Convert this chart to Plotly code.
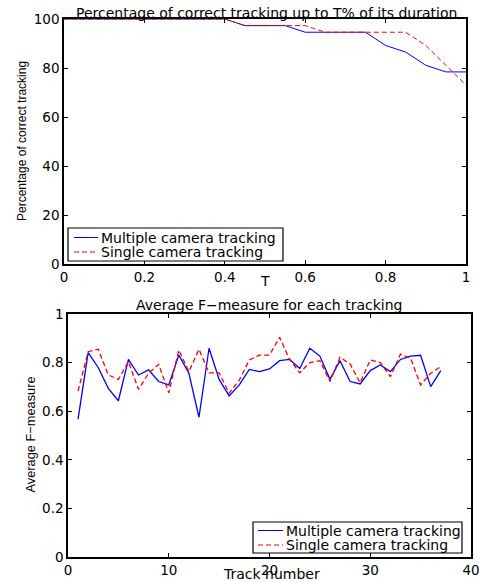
import plotly.graph_objects as go

# ---- data ----
T_values = [0, 0.05, 0.1, 0.15, 0.2, 0.25, 0.3, 0.35, 0.4, 0.45, 0.5,
            0.55, 0.6, 0.65, 0.7, 0.75, 0.8, 0.85, 0.9, 0.95, 1.0]
multi_pct = [100, 100, 100, 100, 100, 100, 100, 100, 100, 97.3, 97.3,
             97.3, 94.6, 94.6, 94.6, 94.6, 89.2, 86.5, 81.1, 78.4, 78.4]
single_pct = [100, 100, 100, 100, 100, 100, 100, 100, 100, 97.3, 97.3,
              97.3, 97.3, 94.6, 94.6, 94.6, 94.6, 94.6, 89.2, 81.1, 73.0]

track_ids = list(range(1, 38))
multi_f = [0.567, 0.841, 0.780, 0.694, 0.643, 0.813, 0.749, 0.770, 0.722, 0.708,
           0.831, 0.756, 0.575, 0.859, 0.731, 0.663, 0.708, 0.772, 0.763, 0.774,
           0.808, 0.813, 0.776, 0.859, 0.827, 0.731, 0.808, 0.722, 0.712, 0.767,
           0.790, 0.763, 0.813, 0.827, 0.830, 0.701, 0.767]
single_f = [0.683, 0.845, 0.855, 0.749, 0.731, 0.804, 0.690, 0.756, 0.793, 0.676,
            0.852, 0.763, 0.855, 0.758, 0.758, 0.674, 0.728, 0.811, 0.831, 0.831,
            0.904, 0.813, 0.758, 0.800, 0.808, 0.722, 0.822, 0.794, 0.717, 0.811,
            0.800, 0.742, 0.835, 0.818, 0.708, 0.756, 0.783]

top_title = "Percentage of correct tracking up to T% of its duration"
bot_title = "Average F\u2212measure for each tracking"
series_names = ["Multiple camera tracking", "Single camera tracking"]
series_colors = ["#0000ff", "#ff0000"]
series_dash = ["solid", "5px,3px"]

W, H = 479, 582
FONT = "DejaVu Sans, Verdana, sans-serif"
FONT_NARROW = "Liberation Sans, Arial, sans-serif"


def px_x(p):
    return p / W


def px_y(p):
    return 1 - p / H


fig = go.Figure()
for name, col, dsh, yv in zip(series_names, series_colors, series_dash, [multi_pct, single_pct]):
    fig.add_trace(go.Scatter(x=T_values, y=yv, mode="lines", name=name,
                             line=dict(color=col, width=1, dash=dsh),
                             xaxis="x", yaxis="y", showlegend=False))
for name, col, dsh, yv in zip(series_names, series_colors, series_dash, [multi_f, single_f]):
    fig.add_trace(go.Scatter(x=track_ids, y=yv, mode="lines", name=name,
                             line=dict(color=col, width=1.3, dash=dsh),
                             xaxis="x2", yaxis="y2", showlegend=False))

axis_common = dict(showline=True, linecolor="black", linewidth=1.5, mirror="ticks",
                   ticks="inside", ticklen=4, tickcolor="black", tickwidth=1,
                   showgrid=False, zeroline=False, automargin=False,
                   ticklabeloverflow="allow",
                   tickfont=dict(family=FONT, size=13.5, color="black"))

fig.update_layout(
    width=W, height=H,
    margin=dict(l=0, r=0, t=0, b=0, autoexpand=False),
    paper_bgcolor="white", plot_bgcolor="white",
    font=dict(family=FONT, color="black"),
    showlegend=False,
    xaxis=dict(domain=[px_x(64), px_x(466)], range=[0, 1], tickvals=[0, 0.2, 0.4, 0.6, 0.8, 1],
               ticktext=["0", "0.2", "0.4", "0.6", "0.8", "1"], anchor="y", **axis_common),
    yaxis=dict(domain=[px_y(264), px_y(19)], range=[0, 100], tickvals=[0, 20, 40, 60, 80, 100],
               anchor="x", **axis_common),
    xaxis2=dict(domain=[px_x(68), px_x(471)], range=[0, 40], tickvals=[0, 10, 20, 30, 40],
                anchor="y2", **axis_common),
    yaxis2=dict(domain=[px_y(557), px_y(314)], range=[0, 1], tickvals=[0, 0.2, 0.4, 0.6, 0.8, 1],
                ticktext=["0", "0.2", "0.4", "0.6", "0.8", "1"], anchor="x2", **axis_common),
)

ann_font = dict(family=FONT, size=14, color="black")
fig.add_annotation(text=top_title, x=px_x(266), y=px_y(12.5), xref="paper", yref="paper",
                   showarrow=False, font=ann_font, xanchor="center", yanchor="middle")
fig.add_annotation(text=bot_title, x=px_x(269), y=px_y(305), xref="paper", yref="paper",
                   showarrow=False, font=ann_font, xanchor="center", yanchor="middle")
fig.add_annotation(text="T", x=px_x(265), y=px_y(281), xref="paper", yref="paper",
                   showarrow=False, font=ann_font, xanchor="center", yanchor="middle")
fig.add_annotation(text="Track number", x=px_x(271), y=px_y(574), xref="paper", yref="paper",
                   showarrow=False, font=ann_font, xanchor="center", yanchor="middle")
fig.add_annotation(text="Percentage of correct tracking", x=px_x(22), y=px_y(141),
                   xref="paper", yref="paper", showarrow=False,
                   font=dict(family=FONT_NARROW, size=12, color="black"), textangle=-90,
                   xanchor="center", yanchor="middle")
fig.add_annotation(text="Average F\u2212measure", x=px_x(30), y=px_y(434.5),
                   xref="paper", yref="paper", showarrow=False,
                   font=dict(family=FONT_NARROW, size=12.8, color="black"), textangle=-90,
                   xanchor="center", yanchor="middle")


# ---- legends (box, line samples, labels) ----
def add_legend(box, rows_y, sample_x, text_x):
    x0, y0, x1, y1 = box
    fig.add_shape(type="rect", xref="paper", yref="paper",
                  x0=px_x(x0), x1=px_x(x1), y0=px_y(y1), y1=px_y(y0),
                  line=dict(color="black", width=1.2), fillcolor="white", layer="above")
    for name, col, dsh, ry in zip(series_names, series_colors, series_dash, rows_y):
        fig.add_shape(type="line", xref="paper", yref="paper",
                      x0=px_x(sample_x[0]), x1=px_x(sample_x[1]), y0=px_y(ry), y1=px_y(ry),
                      line=dict(color=col, width=1, dash=dsh), layer="above")
        fig.add_annotation(text=name, x=px_x(text_x), y=px_y(ry), xref="paper", yref="paper",
                           showarrow=False, font=dict(family=FONT, size=14, color="black"),
                           xanchor="left", yanchor="middle")


add_legend((68, 228, 283, 261), (237.5, 252), (74, 98), 99)
add_legend((253, 522, 462, 553), (530.5, 545), (258, 283), 284)

fig.write_html("out.html", config=dict(displayModeBar=False),
               post_script="document.body.style.margin='0';document.body.style.overflow='hidden';")
